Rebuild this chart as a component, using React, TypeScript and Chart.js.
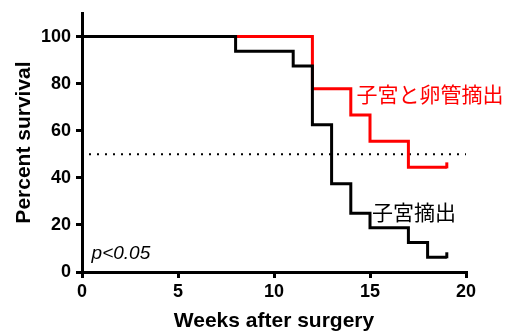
import React, { useEffect, useRef } from 'react';
import { Chart, registerables } from 'chart.js';

Chart.register(...registerables);

// ---- data ----
const hystWeeks = [0, 8, 11, 12, 13, 14, 15, 17, 18, 19];
const hystSurvival = [100, 93.75, 87.5, 62.5, 37.5, 25, 18.75, 12.5, 6.25, 6.25];
const hystBsoWeeks = [0, 12, 14, 15, 17, 19];
const hystBsoSurvival = [100, 77.78, 66.67, 55.56, 44.44, 44.44];
const medianWeeks = [0, 20];
const medianLevel = [50, 50];
const xTickValues = [0, 5, 10, 15, 20];
const yTickValues = [0, 20, 40, 60, 80, 100];
const hystBsoLabel = '子宮と卵管摘出';
const hystLabel = '子宮摘出';
const pValueText = 'p<0.05';
const xTitle = 'Weeks after surgery';
const yTitle = 'Percent survival';

const RED = '#ff0000';
const BLACK = '#000000';
const SANS = '"Liberation Sans", Arial, sans-serif';
const CJK = '"Noto Sans CJK JP", "Noto Sans CJK SC", sans-serif';

const toPoints = (xs: number[], ys: number[]) => xs.map((x, i) => ({ x, y: ys[i] }));

const annotationPlugin = {
  id: 'kmAnnotations',
  afterDatasetsDraw(chart: any) {
    const { ctx, scales } = chart;
    const xs = scales.x;
    const ys = scales.y;
    ctx.save();
    // censor ticks at the end of each survival curve
    chart.data.datasets.forEach((ds: any, i: number) => {
      if (!ds.censor) return;
      const meta = chart.getDatasetMeta(i);
      const pt = meta.data[meta.data.length - 1];
      ctx.strokeStyle = ds.borderColor;
      ctx.lineWidth = 3;
      ctx.beginPath();
      ctx.moveTo(pt.x, pt.y + 1);
      ctx.lineTo(pt.x, pt.y - 5);
      ctx.stroke();
    });
    // text labels
    ctx.textAlign = 'left';
    ctx.textBaseline = 'middle';
    ctx.font = `21px ${CJK}`;
    ctx.fillStyle = RED;
    ctx.fillText(hystBsoLabel, xs.getPixelForValue(14.3), ys.getPixelForValue(75.5));
    ctx.fillStyle = BLACK;
    ctx.fillText(hystLabel, xs.getPixelForValue(15.1), ys.getPixelForValue(25.5));
    ctx.textBaseline = 'alphabetic';
    ctx.font = `italic 19px ${SANS}`;
    ctx.fillText(pValueText, xs.getPixelForValue(0.5), ys.getPixelForValue(5.5));
    ctx.restore();
  },
};

export default function App() {
  const canvasRef = useRef<HTMLCanvasElement | null>(null);

  useEffect(() => {
    const canvas = canvasRef.current;
    if (!canvas) return;
    const tickFont = { family: SANS, size: 18, weight: 'bold' as const };
    const titleFont = { family: SANS, size: 21, weight: 'bold' as const };
    const chart = new Chart(canvas, {
      type: 'line',
      data: {
        datasets: [
          {
            label: hystLabel,
            data: toPoints(hystWeeks, hystSurvival),
            borderColor: BLACK,
            borderWidth: 3,
            stepped: 'before',
            pointRadius: 0,
            fill: false,
            censor: true,
          } as any,
          {
            label: hystBsoLabel,
            data: toPoints(hystBsoWeeks, hystBsoSurvival),
            borderColor: RED,
            borderWidth: 3,
            stepped: 'before',
            pointRadius: 0,
            fill: false,
            censor: true,
          } as any,
          {
            label: 'median',
            data: toPoints(medianWeeks, medianLevel),
            borderColor: BLACK,
            borderWidth: 2,
            borderDash: [2, 6],
            borderDashOffset: 1,
            pointRadius: 0,
            fill: false,
          },
        ],
      },
      options: {
        animation: false,
        responsive: false,
        devicePixelRatio: 1,
        layout: { padding: { left: 0, top: 13, right: 40, bottom: 0 } },
        plugins: {
          legend: { display: false },
          tooltip: { enabled: false },
        },
        scales: {
          x: {
            type: 'linear',
            min: 0,
            max: 20,
            afterBuildTicks: (s: any) => {
              s.ticks = xTickValues.map((v) => ({ value: v }));
            },
            afterFit: (s: any) => {
              s.height = 62;
              s.paddingLeft = 0;
              s.paddingRight = 0;
            },
            ticks: { font: tickFont, color: BLACK, padding: 3, maxRotation: 0 },
            grid: {
              display: true,
              drawOnChartArea: false,
              drawTicks: true,
              tickLength: 6,
              lineWidth: 3,
              color: BLACK,
            },
            border: { display: true, width: 3, color: BLACK },
            title: { display: true, text: xTitle, font: titleFont, color: BLACK, padding: 0 },
          },
          y: {
            type: 'linear',
            min: 0,
            max: 110,
            afterBuildTicks: (s: any) => {
              s.ticks = yTickValues.map((v) => ({ value: v }));
            },
            afterFit: (s: any) => {
              s.width = 82;
              s.paddingTop = 0;
              s.paddingBottom = 0;
            },
            ticks: { font: tickFont, color: BLACK, padding: 5 },
            grid: {
              display: true,
              drawOnChartArea: false,
              drawTicks: true,
              tickLength: 6,
              lineWidth: 3,
              color: BLACK,
            },
            border: { display: true, width: 3, color: BLACK },
            title: {
              display: true,
              text: yTitle,
              font: titleFont,
              color: BLACK,
              padding: { top: 12, bottom: 0 },
            },
          },
        },
      },
      plugins: [annotationPlugin],
    });
    return () => chart.destroy();
  }, []);

  return (
    <div style={{ position: 'fixed', left: 0, top: 0, width: 506, height: 334, background: '#fff' }}>
      <canvas ref={canvasRef} width={506} height={334} style={{ display: 'block', width: 506, height: 334 }} />
    </div>
  );
}
